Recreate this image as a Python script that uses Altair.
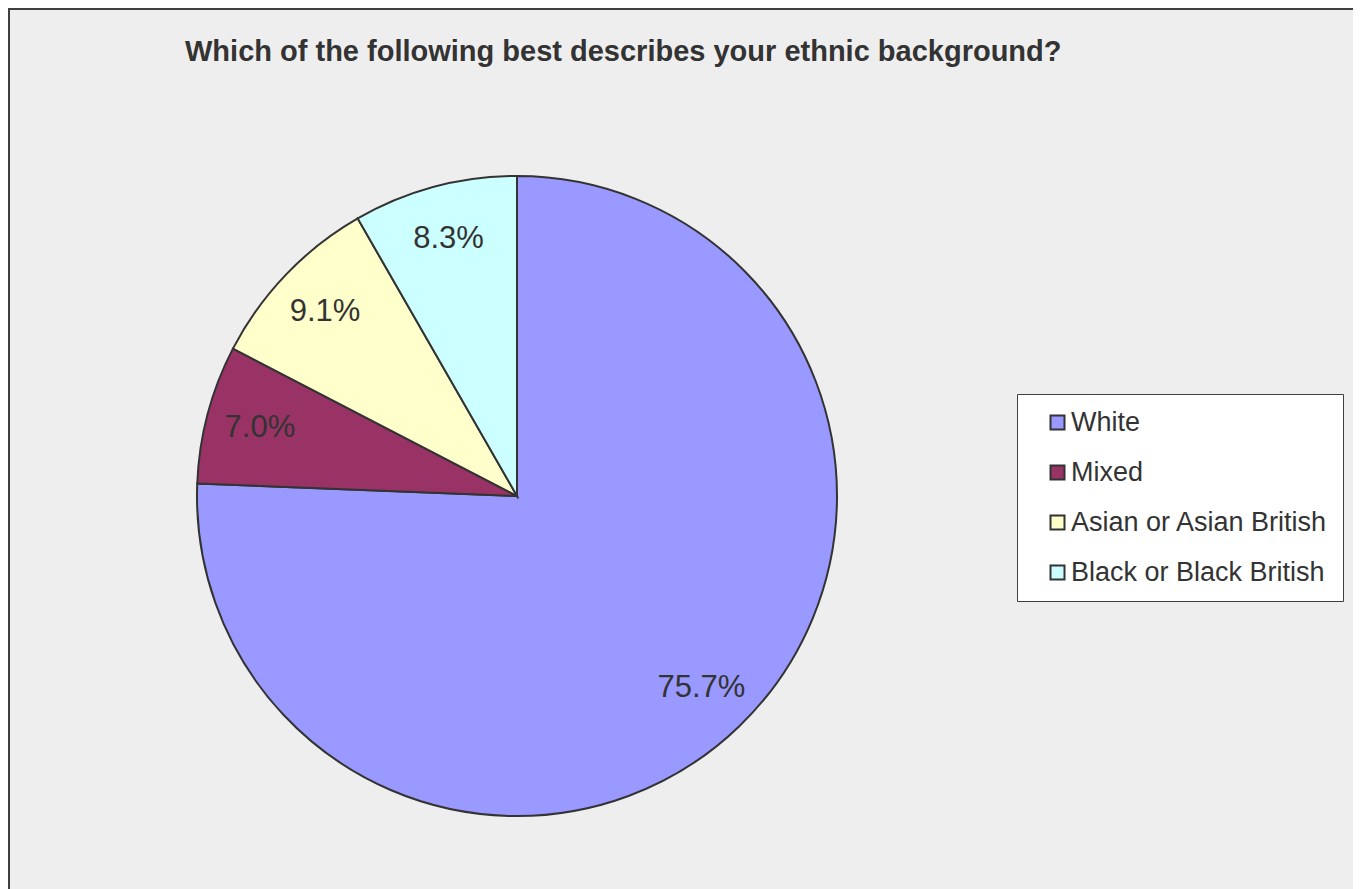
import altair as alt
import pandas as pd

categories = ["White", "Mixed", "Asian or Asian British", "Black or Black British"]
values = [75.7, 7.0, 9.1, 8.3]
labels = ["75.7%", "7.0%", "9.1%", "8.3%"]
colors = ["#9999FF", "#993366", "#FFFFCC", "#CCFFFF"]
title_text = "Which of the following best describes your ethnic background?"

df = pd.DataFrame({
    "category": categories,
    "value": values,
    "label": labels,
    "idx": list(range(len(categories))),
})

W, H = 1345, 885
CX, CY, R = 509, 488, 320

base = alt.Chart(df).encode(
    theta=alt.Theta("value:Q", stack=True),
    order=alt.Order("idx:Q"),
)

arcs = base.mark_arc(outerRadius=R, stroke="#333333", strokeWidth=2).encode(
    x=alt.value(CX),
    y=alt.value(CY),
    color=alt.Color(
        "category:N",
        scale=alt.Scale(domain=categories, range=colors),
        sort=categories,
        legend=alt.Legend(
            title=None,
            orient="none",
            legendX=1009,
            legendY=386,
            fillColor="#FFFFFF",
            strokeColor="#404040",
            padding=15,
            symbolOffset=12,
            symbolType="square",
            symbolSize=196,
            symbolStrokeColor="#333333",
            symbolStrokeWidth=2,
            labelFont="Liberation Sans",
            labelFontSize=27,
            labelColor="#333333",
            labelOffset=0,
            labelLimit=400,
            rowPadding=22,
        ),
    ),
)

texts = base.mark_text(radius=266, fontSize=31, font="Liberation Sans", color="#333333").encode(
    x=alt.value(CX),
    y=alt.value(CY),
    text="label:N",
)

frame_src = alt.Chart(pd.DataFrame({"k": [0]}))
left_border = frame_src.mark_rule(color="#404040", strokeWidth=2).encode(
    x=alt.value(1), y=alt.value(0), y2=alt.value(H)
)
top_border = frame_src.mark_rule(color="#404040", strokeWidth=2).encode(
    x=alt.value(0), x2=alt.value(W), y=alt.value(1)
)

chart = alt.layer(arcs, texts, left_border, top_border).properties(
    width=W,
    height=H,
    autosize=alt.AutoSizeParams(type="none"),
    padding=0,
    background="#EEEEEE",
    title=alt.TitleParams(
        text=title_text,
        anchor="start",
        dx=178,
        dy=83,
        offset=0,
        baseline="alphabetic",
        font="Liberation Sans",
        fontSize=29,
        fontWeight="bold",
        color="#333333",
    ),
).configure_view(stroke=None, fill="#EEEEEE")

chart.save("out.html", embed_options={"renderer": "svg", "actions": False})
